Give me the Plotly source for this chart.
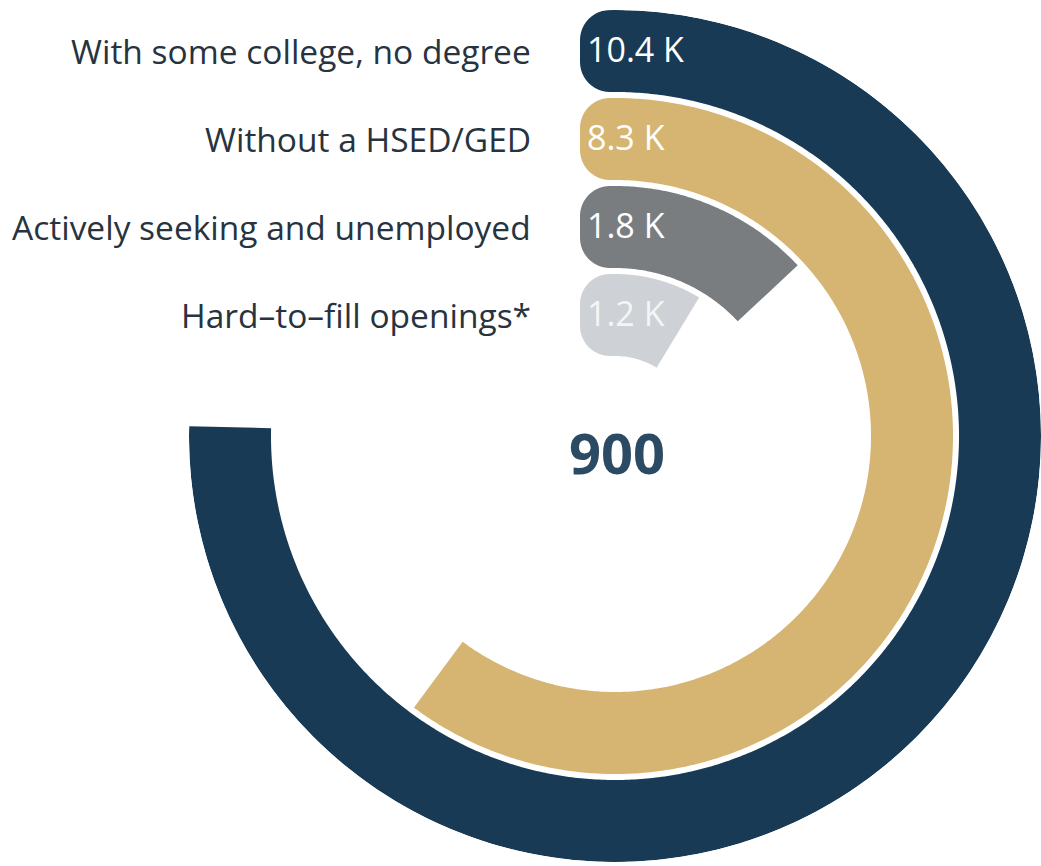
import math
import plotly.graph_objects as go

# ---- data ----
categories = [
    "With some college, no degree",
    "Without a HSED/GED",
    "Actively seeking and unemployed",
    "Hard\u2013to\u2013fill openings*",
]
values = [10400, 8300, 1800, 1200]
value_labels = ["10.4 K", "8.3 K", "1.8 K", "1.2 K"]
center_label = "900"

# ---- styling / geometry ----
colors = ["#183a55", "#d5b571", "#797d80", "#ced1d5"]
label_colors = ["#ffffff", "#ffffff", "#ffffff", "#f4f5f6"]
text_color = "#27333f"
FONT = "Open Sans"

W, H = 1041, 866
CX, CY = 615, 436          # ring centre in page pixels (from top-left)
R_MAX = 426                # radial axis range, one unit per pixel
BAND = 82                  # ring thickness
PITCH = 88                 # distance between ring outer edges
FULL_TURN = 13800          # value represented by a complete circle
CAP_DEPTH = 35             # how far the rounded start cap reaches back
CAP_RADIUS = 30


def to_polar(x, y):
    """Cartesian (x right, y up, centre origin) -> (r, theta clockwise from top)."""
    return math.hypot(x, y), math.degrees(math.atan2(x, y))


def bar_outline(value, r_in, r_out):
    theta_end = value / FULL_TURN * 360.0
    rs, ts = [], []
    n = max(int(theta_end * 2), 8)
    for i in range(n + 1):                       # outer edge
        rs.append(r_out)
        ts.append(theta_end * i / n)
    for i in range(n + 1):                       # inner edge, back to the start
        rs.append(r_in)
        ts.append(theta_end * (1 - i / n))
    # rounded cap at the start of the bar
    pts = []
    off = -(CAP_DEPTH - CAP_RADIUS)
    pts.append((0.0, r_in))
    for k in range(13):
        a = math.radians(-90 - 90 * k / 12)
        pts.append((off + CAP_RADIUS * math.cos(a), r_in + CAP_RADIUS + CAP_RADIUS * math.sin(a)))
    for k in range(13):
        a = math.radians(180 - 90 * k / 12)
        pts.append((off + CAP_RADIUS * math.cos(a), r_out - CAP_RADIUS + CAP_RADIUS * math.sin(a)))
    pts.append((0.0, r_out))
    for x, y in pts:
        r, t = to_polar(x, y)
        rs.append(r)
        ts.append(t)
    return rs, ts


fig = go.Figure()

for i, (cat, val) in enumerate(zip(categories, values)):
    r_out = R_MAX - i * PITCH
    r_in = r_out - BAND
    rs, ts = bar_outline(val, r_in, r_out)
    fig.add_trace(go.Scatterpolar(
        r=rs, theta=ts, mode="lines", fill="toself",
        fillcolor=colors[i], line=dict(width=0, color=colors[i]),
        name=cat, hoverinfo="skip",
    ))

# value labels at the start of each bar
for i, lab in enumerate(value_labels):
    r_mid = R_MAX - i * PITCH - BAND / 2
    r, t = to_polar(-28, r_mid - 2)
    fig.add_trace(go.Scatterpolar(
        r=[r], theta=[t], mode="text", text=[lab],
        textposition="middle right", cliponaxis=False,
        textfont=dict(family=FONT, size=34, color=label_colors[i]),
        hoverinfo="skip",
    ))

# category names to the left of the rings
annotations = []
for i, cat in enumerate(categories):
    y_mid = CY - (R_MAX - i * PITCH - BAND / 2)
    annotations.append(dict(
        x=533 / W, y=1 - y_mid / H, xref="paper", yref="paper",
        xanchor="right", yanchor="middle", text=cat, showarrow=False,
        font=dict(family=FONT, size=33.5, color=text_color),
    ))
annotations.append(dict(
    x=617 / W, y=1 - 452 / H, xref="paper", yref="paper",
    xanchor="center", yanchor="middle", text="<b>%s</b>" % center_label,
    showarrow=False, font=dict(family=FONT, size=56, color="#2b4a63"),
))

fig.update_layout(
    width=W, height=H, margin=dict(l=0, r=0, t=0, b=0),
    paper_bgcolor="white", plot_bgcolor="white", showlegend=False,
    polar=dict(
        domain=dict(x=[(CX - R_MAX) / W, (CX + R_MAX) / W],
                    y=[(H - CY - R_MAX) / H, (H - CY + R_MAX) / H]),
        bgcolor="white",
        radialaxis=dict(range=[0, R_MAX], visible=False),
        angularaxis=dict(rotation=90, direction="clockwise", visible=False),
    ),
    annotations=annotations,
)

fig.write_html("out.html")
